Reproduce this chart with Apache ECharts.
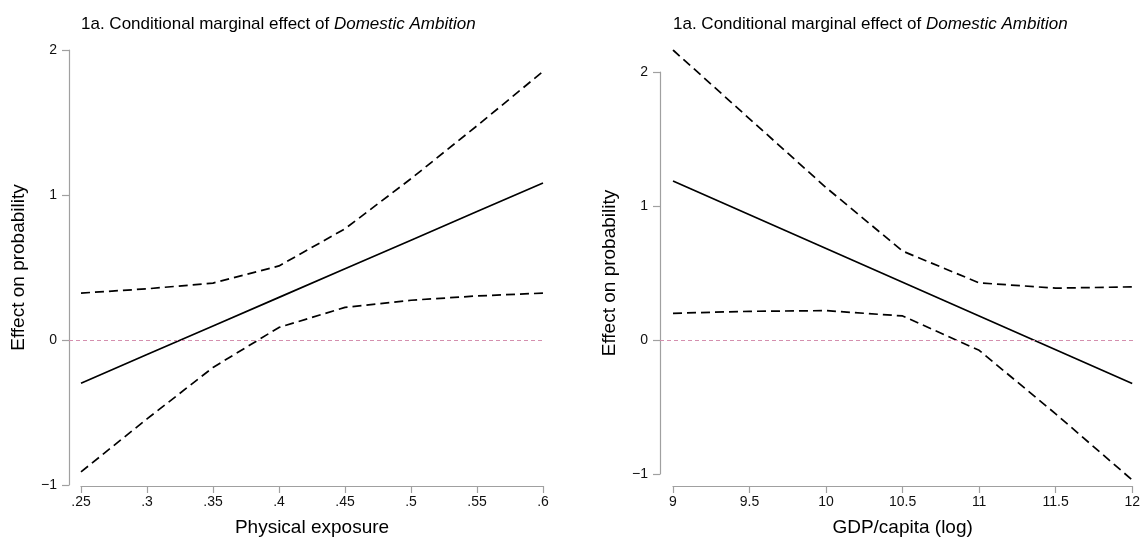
<!DOCTYPE html>
<html>
<head>
<meta charset="utf-8">
<script src="https://cdn.jsdelivr.net/npm/echarts@6/dist/echarts.min.js"></script>
<style>
    html, body {margin: 0; padding: 0; background: #fff;}
    #chart {width: 1143px; height: 542px;}
</style>
</head>
<body>
<div id="chart"></div>
<script>
// left panel: physical exposure
var expoX = [0.25, 0.30, 0.35, 0.40, 0.45, 0.50, 0.55, 0.60];
var expoEffect = [-0.33, -0.13, 0.07, 0.27, 0.47, 0.67, 0.87, 1.07];
var expoUpper = [0.30, 0.33, 0.37, 0.49, 0.75, 1.10, 1.47, 1.85];
var expoLower = [-0.95, -0.58, -0.22, 0.06, 0.20, 0.25, 0.28, 0.30];

// right panel: gdp per capita (log)
var gdpX = [9, 9.5, 10, 10.5, 11, 11.5, 12];
var gdpEffect = [1.18, 0.925, 0.67, 0.415, 0.16, -0.095, -0.35];
var gdpUpper = [2.17, 1.65, 1.13, 0.65, 0.41, 0.37, 0.38];
var gdpLower = [0.18, 0.195, 0.20, 0.16, -0.10, -0.58, -1.08];

var yTicks = [-1, 0, 1, 2];
var titleText = '1a. Conditional marginal effect of {i|Domestic Ambition}';

var font = 'Liberation Sans, Arial, Helvetica, sans-serif';
var axisGray = '#a0a0a0';

function pairs(xs, ys) {
    return xs.map(function (x, i) { return [x, ys[i]]; });
}

function minusSign(v) {
    return String(v).replace('-', '\u2212');
}

function dropZero(v) {
    return String(v).replace(/^0\./, '.');
}

var chart = echarts.init(document.getElementById('chart'));

var lineSolid = {color: '#000', width: 1.7, type: 'solid'};
var lineDash = {color: '#000', width: 1.7, type: [9, 5]};

function bandSeries(xi, yi, data, style) {
    return {
        type: 'line', xAxisIndex: xi, yAxisIndex: yi, data: data,
        showSymbol: false, silent: true, lineStyle: style, z: 3
    };
}

function refSeries(xi, yi) {
    return {
        type: 'line', xAxisIndex: xi, yAxisIndex: yi, data: [],
        markLine: {
            silent: true, symbol: 'none', label: {show: false},
            lineStyle: {color: '#d48fae', width: 1, type: [4, 3], opacity: 1},
            emphasis: {disabled: true},
            data: [{yAxis: 0}]
        }
    };
}

var visibleY = {
    type: 'value', min: yTicks[0], max: yTicks[yTicks.length - 1], interval: 1,
    name: 'Effect on probability', nameLocation: 'middle', nameGap: 41,
    nameTextStyle: {fontFamily: font, fontSize: 19, color: '#000'},
    axisLine: {show: true, lineStyle: {color: axisGray, width: 1.2}},
    axisTick: {show: true, length: 7, lineStyle: {color: axisGray, width: 1.2}},
    axisLabel: {fontFamily: font, fontSize: 14, color: '#111', margin: 12, formatter: minusSign},
    splitLine: {show: false}
};

function visibleX(gridIndex, min, max, interval, offset, name, fmt) {
    return {
        gridIndex: gridIndex, type: 'value', min: min, max: max, interval: interval, offset: offset,
        name: name, nameLocation: 'middle', nameGap: 32,
        nameTextStyle: {fontFamily: font, fontSize: 19, color: '#000'},
        axisLine: {show: true, onZero: false, lineStyle: {color: axisGray, width: 1.2}},
        axisTick: {show: true, length: 7, lineStyle: {color: axisGray, width: 1.2}},
        axisLabel: {fontFamily: font, fontSize: 14, color: '#111', margin: 9, formatter: fmt},
        splitLine: {show: false}
    };
}

function hiddenAxis(gridIndex, min, max) {
    return {gridIndex: gridIndex, type: 'value', min: min, max: max, show: false,
        axisLine: {onZero: false}, splitLine: {show: false}};
}

function panelTitle(left) {
    return {
        text: titleText, left: left, top: 16, padding: 0,
        textStyle: {fontFamily: font, fontSize: 17, fontWeight: 'normal', color: '#000',
            rich: {i: {fontFamily: font, fontSize: 17, fontStyle: 'italic', color: '#000'}}}
    };
}

chart.setOption({
    animation: false,
    backgroundColor: '#fff',
    title: [panelTitle(81), panelTitle(673)],
    grid: [
        {left: 69, top: 50, width: 474, height: 435},   // left axis + ref line
        {left: 81, top: 50, width: 462, height: 435},   // left data
        {left: 660, top: 72, width: 473, height: 402},  // right axis + ref line
        {left: 673, top: 50, width: 460, height: 435}   // right data
    ],
    xAxis: [
        hiddenAxis(0, 0, 1),
        visibleX(1, 0.25, 0.6, 0.05, 7, 'Physical exposure', dropZero),
        hiddenAxis(2, 0, 1),
        visibleX(3, 9, 12, 0.5, 6, 'GDP/capita (log)', function (v) { return String(v); })
    ],
    yAxis: [
        Object.assign({gridIndex: 0}, visibleY),
        hiddenAxis(1, -1, 2),
        Object.assign({gridIndex: 2}, visibleY),
        hiddenAxis(3, -1.08, 2.17)
    ],
    series: [
        refSeries(0, 0),
        bandSeries(1, 1, pairs(expoX, expoUpper), lineDash),
        bandSeries(1, 1, pairs(expoX, expoLower), lineDash),
        bandSeries(1, 1, pairs(expoX, expoEffect), lineSolid),
        refSeries(2, 2),
        bandSeries(3, 3, pairs(gdpX, gdpUpper), lineDash),
        bandSeries(3, 3, pairs(gdpX, gdpLower), lineDash),
        bandSeries(3, 3, pairs(gdpX, gdpEffect), lineSolid)
    ]
});
</script>
</body>
</html>
